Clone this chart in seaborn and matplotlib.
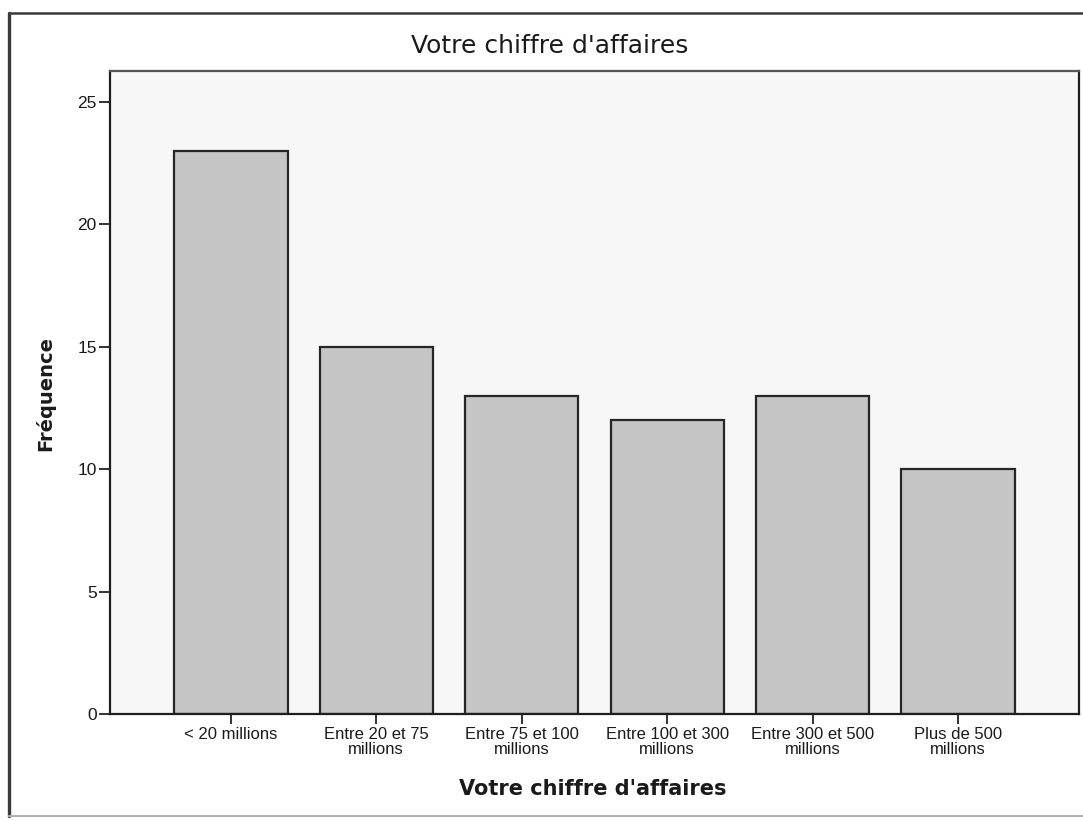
import matplotlib
matplotlib.use("Agg")
import matplotlib.pyplot as plt
from matplotlib.lines import Line2D
import pandas as pd
import seaborn as sns

# Revenue brackets and respondent counts
categories = [
    "< 20 millions",
    "Entre 20 et 75\nmillions",
    "Entre 75 et 100\nmillions",
    "Entre 100 et 300\nmillions",
    "Entre 300 et 500\nmillions",
    "Plus de 500\nmillions",
]
frequencies = [23, 15, 13, 12, 13, 10]
y_ticks = [0, 5, 10, 15, 20, 25]

title_text = "Votre chiffre d'affaires"
x_label = "Votre chiffre d'affaires"
y_label = "Fréquence"

df = pd.DataFrame({"categorie": categories, "frequence": frequencies})

sns.set_theme(style="white")
plt.rcParams["font.family"] = ["Liberation Sans", "DejaVu Sans"]

W, H = 1083, 821
fig = plt.figure(figsize=(W / 100, H / 100), dpi=100)
fig.patch.set_facecolor("white")

ax = fig.add_axes([110 / W, 1 - 714 / H, (1079 - 110) / W, (714 - 71) / H])
ax.set_facecolor("#f7f7f7")

sns.barplot(
    data=df, x="categorie", y="frequence", ax=ax,
    color="#c5c5c5", edgecolor="#262626", linewidth=1.6,
    width=0.78, saturation=1,
)

ax.set_xlim(-0.83, len(categories) - 1 + 0.83)
ax.set_ylim(0, 26.27)
ax.set_yticks(y_ticks)
ax.set_yticklabels([str(t) for t in y_ticks], fontsize=12.5, color="#1a1a1a")
ax.set_xticks(range(len(categories)))
ax.set_xticklabels(categories, fontsize=12, color="#1a1a1a", linespacing=1.0)
ax.tick_params(axis="y", direction="out", length=8, width=1.3, color="#222222", pad=1.5, left=True)
ax.tick_params(axis="x", direction="out", length=7, width=1.3, color="#222222", pad=2.5, bottom=True)
ax.set_xlabel("")
ax.set_ylabel("")

for side in ["left", "bottom", "right"]:
    ax.spines[side].set_visible(True)
    ax.spines[side].set_color("#1e1e1e")
    ax.spines[side].set_linewidth(1.6)
ax.spines["top"].set_visible(True)
ax.spines["top"].set_color("#555555")
ax.spines["top"].set_linewidth(1.6)

# Titles and axis names
fig.text(550 / W, 1 - 46 / H, title_text, ha="center", va="center",
         fontsize=18, fontweight="medium", family=["DejaVu Sans"], color="#1a1a1a")
fig.text(593 / W, 1 - 789 / H, x_label, ha="center", va="center",
         fontsize=15, fontweight="bold", family=["DejaVu Sans"], color="#1a1a1a")
fig.text(45 / W, 1 - 393 / H, y_label, ha="center", va="center", rotation=90,
         fontsize=14, fontweight="bold", family=["DejaVu Sans"], color="#1a1a1a")

# Outer chart frame
fig.add_artist(Line2D([9 / W, 9 / W], [1 - 13 / H, 1 - 816 / H], transform=fig.transFigure,
                      color="#3a3a3a", linewidth=2.4))
fig.add_artist(Line2D([9 / W, 1.0], [1 - 13 / H, 1 - 13 / H], transform=fig.transFigure,
                      color="#3a3a3a", linewidth=1.8))
fig.add_artist(Line2D([9 / W, 1.0], [1 - 816 / H, 1 - 816 / H], transform=fig.transFigure,
                      color="#b0b0b0", linewidth=1.5))

fig.savefig("out.png", dpi=100)
